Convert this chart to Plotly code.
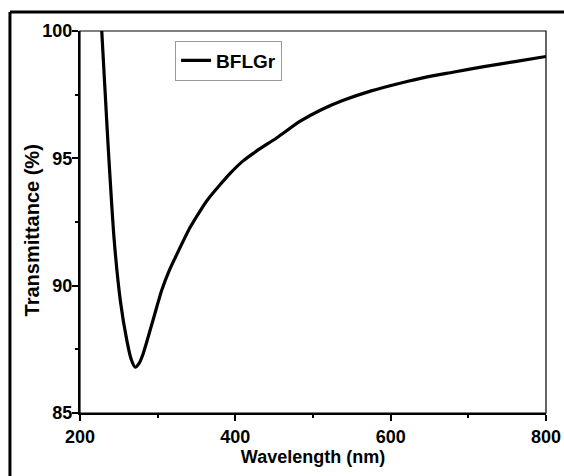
import plotly.graph_objects as go

# Data
wavelength = [224, 228, 236, 244, 252, 260, 266, 271, 276, 281, 286, 295,
              305, 315, 325, 342, 355, 365, 380, 393, 410, 428, 453, 483, 510, 539,
              575, 612, 647, 680, 720, 760, 800]
transmittance = [102.0, 100.0, 95.6, 91.8, 89.4, 87.9, 87.1, 86.8, 86.95, 87.3,
                 87.8, 88.75, 89.8, 90.6, 91.25, 92.3, 92.95, 93.4, 93.95, 94.4, 94.9,
                 95.3, 95.8, 96.45, 96.9, 97.28, 97.65, 97.95, 98.2, 98.38, 98.6, 98.8, 99.0]
series_name = "BFLGr"
x_title = "Wavelength (nm)"
y_title = "Transmittance (%)"
x_ticks = [200, 400, 600, 800]
y_ticks = [85, 90, 95, 100]

W, H = 564, 476
# plot area in reference-image pixels
PL, PR, PT, PB = 80, 545.7, 31, 413
ML, MR, MT, MB = PL, W - PR, PT, H - PB
pw = W - ML - MR
ph = H - MT - MB

def px_x(p):
    return (p - ML) / pw

def px_y(p):
    return (H - MB - p) / ph

FONT = "Arial, Liberation Sans, sans-serif"

fig = go.Figure()
fig.add_trace(go.Scatter(
    x=wavelength, y=transmittance, mode="lines", name=series_name,
    line=dict(color="black", width=3.2, shape="spline", smoothing=0.6),
    showlegend=True,
))

axis_common = dict(
    showline=True, linecolor="black", linewidth=2,
    ticks="outside", ticklen=6, tickwidth=1.5, tickcolor="black",
    showgrid=False, zeroline=False, automargin=False,
    tickfont=dict(family=FONT, size=18, color="black", weight="bold"),
)

fig.update_layout(
    width=W, height=H,
    margin=dict(l=ML, r=MR, t=MT, b=MB, pad=0),
    paper_bgcolor="white", plot_bgcolor="white",
    font=dict(family=FONT, color="black"),
    xaxis=dict(
        range=[200, 800], tickvals=x_ticks,
        minor=dict(dtick=100, ticks="outside", ticklen=3, tickwidth=1.5, tickcolor="black"),
        title=dict(text=x_title, standoff=4,
                   font=dict(family=FONT, size=18, color="black", weight="bold")),
        **axis_common,
    ),
    yaxis=dict(
        range=[85, 100], tickvals=y_ticks, ticklabelstandoff=-4,
        minor=dict(dtick=2.5, ticks="outside", ticklen=3, tickwidth=1.5, tickcolor="black"),
        **axis_common,
    ),
    annotations=[
        dict(text=y_title, textangle=-90, xref="paper", yref="paper",
             x=px_x(32.5), y=px_y(230), xanchor="center", yanchor="middle",
             showarrow=False,
             font=dict(family=FONT, size=20, color="black", weight="bold")),
    ],
    legend=dict(
        x=px_x(175), y=px_y(60.5), xanchor="left", yanchor="middle",
        bordercolor="#999999", borderwidth=1, bgcolor="white",
        font=dict(family=FONT, size=19, color="black", weight="bold"),
        itemwidth=30, tracegroupgap=0,
    ),
    shapes=[
        # plot frame (top / right thinner lines)
        dict(type="rect", xref="paper", yref="paper", x0=0, x1=1, y0=0, y1=1,
             line=dict(color="black", width=1.2), layer="above"),
        # outer image frame (top and left edges)
        dict(type="line", xref="paper", yref="paper",
             x0=px_x(10), x1=px_x(570), y0=px_y(12), y1=px_y(12),
             line=dict(color="black", width=3)),
        dict(type="line", xref="paper", yref="paper",
             x0=px_x(10), x1=px_x(10), y0=px_y(12), y1=px_y(480),
             line=dict(color="black", width=3)),
    ],
)

fig.write_html(
    "out.html",
    config={"displayModeBar": False},
    post_script="document.body.style.margin='0';document.body.style.overflow='hidden';",
)
